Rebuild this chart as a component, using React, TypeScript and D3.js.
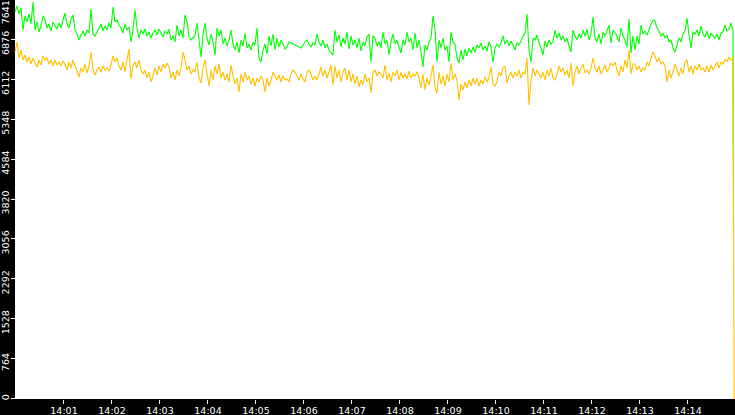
import * as d3 from "d3";
import { useEffect, useRef } from "react";

// Two throughput series, one sample every 2.5 s starting 14:00:00.
const GREEN_VALUES = [
  7411, 7526, 7373, 7488, 7066, 7335, 7220, 7373, 7181, 7603,
  7066, 7220, 7028, 7143, 7335, 7258, 7105, 7181, 7047, 7220,
  7143, 7086, 7201, 7105, 7258, 7392, 7181, 7105, 7277, 7354,
  7066, 6990, 6875, 6971, 7047, 6952, 7066, 7009, 7469, 6990,
  6952, 7028, 7105, 7181, 7047, 7143, 7066, 7201, 7105, 7507,
  7220, 7258, 7162, 7105, 7009, 7181, 7066, 7124, 6837, 7066,
  7450, 7105, 6913, 7066, 6990, 7086, 6952, 7028, 6913, 7009,
  7066, 6971, 7086, 7009, 6932, 7047, 6990, 7086, 6875, 6952,
  6837, 7162, 6952, 7066, 6913, 7354, 7220, 6932, 6875, 6913,
  6952, 7201, 6875, 6549, 6971, 7201, 6913, 6779, 6990, 6837,
  6588, 7105, 6952, 7066, 6798, 6913, 6760, 6875, 7066, 6798,
  6683, 6837, 6626, 6875, 6760, 7009, 6722, 6798, 6683, 6837,
  6779, 7105, 6530, 6454, 6683, 6798, 6607, 6952, 6760, 6990,
  6683, 6913, 6741, 6875, 6798, 6703, 6741, 6837, 6818, 6798,
  6779, 6760, 6741, 6722, 6779, 6837, 6875, 6798, 6741, 6818,
  6779, 6990, 6837, 6760, 6875, 6722, 6798, 6683, 6626, 6588,
  7066, 6837, 6971, 6741, 6913, 6798, 7028, 6703, 6952, 6779,
  6875, 6722, 6913, 6664, 6837, 6760, 6932, 6990, 6454, 6952,
  6913, 6760, 6837, 6722, 7028, 6798, 6875, 6588, 6837, 6990,
  6798, 6875, 6741, 6626, 6875, 6779, 7028, 6837, 6913, 6683,
  7009, 6722, 6875, 6645, 6358, 6779, 6683, 6837, 6913, 7335,
  7066, 6454, 6875, 6722, 6913, 6683, 6760, 6454, 7028, 6837,
  6798, 6530, 6435, 6683, 6492, 6703, 6569, 6722, 6626, 6741,
  6645, 6779, 6722, 6818, 6683, 6760, 6664, 6837, 6741, 6454,
  6722, 6798, 6741, 6818, 6952, 6798, 6875, 6760, 6856, 6779,
  6683, 6818, 6779, 6856, 6952, 7009, 7373, 6683, 6454, 6913,
  6875, 6971, 6818, 6722, 6588, 6856, 6741, 6875, 6798, 6837,
  7066, 6913, 7009, 6875, 6952, 6837, 6913, 6760, 6645, 7066,
  6952, 6875, 6990, 6913, 7066, 6952, 7086, 6875, 6990, 7315,
  6913, 6837, 6990, 6798, 7028, 6952, 7047, 7162, 6818, 7066,
  7009, 6952, 6837, 7105, 6952, 6875, 6741, 7277, 6626, 6952,
  6683, 6952, 6798, 7162, 6990, 7047, 6971, 7066, 7181, 7258,
  7239, 7105, 7047, 6952, 7009, 6913, 6971, 6837, 6875, 6722,
  6645, 6779, 6913, 6837, 6990, 7047, 7296, 6971, 6722, 7028,
  6990, 7066, 6952, 7143, 6990, 6932, 7047, 6894, 7009, 6952,
  6913, 6990, 6875, 7009, 7028, 7162, 7047, 7086, 7201, 7066,
];

const ORANGE_VALUES = [
  6645, 6837, 6530, 6683, 6492, 6588, 6454, 6549, 6415, 6530,
  6435, 6358, 6492, 6396, 6569, 6492, 6530, 6415, 6492, 6377,
  6492, 6396, 6454, 6377, 6473, 6415, 6300, 6454, 6339, 6492,
  6377, 6281, 6166, 6339, 6262, 6415, 6243, 6377, 6645, 6300,
  6205, 6300, 6358, 6262, 6377, 6300, 6339, 6281, 6396, 6569,
  6454, 6530, 6377, 6300, 6454, 6262, 6492, 6703, 6128, 6396,
  6454, 6339, 6492, 6300, 6224, 6300, 6147, 6262, 6071, 6186,
  6339, 6205, 6377, 6262, 6415, 6339, 6435, 6358, 6147, 6262,
  6109, 6300, 6186, 6339, 6645, 6492, 6300, 6377, 6224, 6300,
  6262, 6454, 6147, 6052, 6339, 6492, 6224, 5994, 6300, 6109,
  6377, 6224, 6415, 6147, 6262, 6109, 6224, 6071, 6396, 6186,
  6033, 6147, 5879, 6224, 6071, 6262, 6109, 6186, 6033, 6147,
  5994, 6147, 6071, 6186, 6109, 5879, 6147, 5994, 6109, 6262,
  6186, 6109, 6205, 6071, 6186, 6109, 6128, 6071, 6224, 6300,
  6262, 6186, 6109, 6224, 6128, 6071, 6262, 6300, 6224, 6109,
  6186, 6109, 6224, 6358, 6186, 6300, 6147, 6262, 6396, 6013,
  6377, 6147, 6300, 6071, 6262, 6339, 6109, 6300, 6071, 6224,
  6033, 6186, 5975, 6109, 6013, 6224, 6071, 6147, 5860, 6262,
  6300, 6186, 6262, 6224, 6147, 6396, 6109, 6243, 6071, 6262,
  6186, 6300, 6109, 6262, 6147, 6224, 6128, 6281, 6147, 6224,
  6186, 6262, 6147, 5956, 6224, 5918, 6147, 6013, 6186, 6396,
  5956, 5860, 6262, 6033, 6186, 5994, 6224, 6071, 6435, 6109,
  6224, 6109, 5726, 6033, 5918, 6071, 5956, 6109, 5994, 6147,
  6033, 6147, 5994, 6109, 6033, 6166, 6071, 6147, 6358, 6033,
  5994, 6071, 6262, 6186, 6339, 6377, 6052, 6186, 6262, 6147,
  6262, 6186, 6300, 6147, 6262, 6224, 6530, 5630, 6109, 6339,
  6186, 6300, 6224, 6147, 6262, 6109, 6300, 6186, 6339, 6147,
  6109, 6224, 6377, 6262, 6339, 6205, 6300, 6147, 6435, 5994,
  6262, 6377, 6224, 6339, 6415, 6243, 6300, 6224, 6339, 6530,
  6339, 6262, 6377, 6224, 6300, 6396, 6262, 6339, 6435, 6377,
  6454, 6300, 6186, 6377, 6262, 6492, 6339, 6683, 6224, 6415,
  6415, 6300, 6377, 6262, 6339, 6300, 6454, 6377, 6530, 6645,
  6569, 6454, 6530, 6415, 6454, 6377, 6071, 6300, 6147, 6262,
  6415, 6300, 6186, 6339, 6224, 6454, 6492, 6262, 6377, 6224,
  6377, 6300, 6415, 6300, 6339, 6262, 6377, 6262, 6396, 6300,
  6377, 6454, 6339, 6454, 6415, 6511, 6454, 6549, 6492, 6530,
];

// Final readings when the feed stopped.
const GREEN_LAST = 3236;
const ORANGE_LAST = 0;

const Y_MAX = 7641;
const Y_TICK_LABELS = ["0", "764", "1528", "2292", "3056", "3820", "4584", "5348", "6112", "6876", "7641"];
const X_TICK_LABELS = [
  "14:01", "14:02", "14:03", "14:04", "14:05", "14:06", "14:07",
  "14:08", "14:09", "14:10", "14:11", "14:12", "14:13", "14:14",
];

const START = "14:00:00";
const END = "14:15:00";
const STEP_MS = 2500;

const WIDTH = 735;
const HEIGHT = 415;
const FONT = "9.5px 'DejaVu Sans', sans-serif";

type Pt = { t: Date; v: number };

const App = () => {
  const svgRef = useRef<SVGSVGElement>(null);

  useEffect(() => {
    const svgEl = svgRef.current;
    if (!svgEl) return;
    const svg = d3.select(svgEl);
    svg.selectAll("*").remove();

    const margin = { left: 15, bottom: 16 };
    const plotBottom = HEIGHT - margin.bottom;

    const parseT = d3.timeParse("%H:%M:%S");
    const parseHM = d3.timeParse("%H:%M");
    const t0 = parseT(START)!;
    const t1 = parseT(END)!;

    const x = d3.scaleTime().domain([t0, t1]).range([margin.left, WIDTH]);
    const y = d3.scaleLinear().domain([0, Y_MAX]).range([plotBottom, 0]);

    const toSeries = (vals: number[], last: number, lastLagMs: number): Pt[] => {
      const pts = vals.map((v, i) => ({ t: new Date(+t0 + i * STEP_MS), v }));
      const endT = +t0 + (vals.length - 1) * STEP_MS + lastLagMs;
      pts.push({ t: new Date(endT), v: last });
      return pts;
    };
    const green = toSeries(GREEN_VALUES, GREEN_LAST, 600);
    const orange = toSeries(ORANGE_VALUES, ORANGE_LAST, 1500);

    // background bands
    svg.append("rect").attr("width", WIDTH).attr("height", HEIGHT).attr("fill", "#000");
    svg
      .append("rect")
      .attr("x", margin.left)
      .attr("y", 0)
      .attr("width", WIDTH - margin.left)
      .attr("height", plotBottom)
      .attr("fill", "#fff");

    const line = d3
      .line<Pt>()
      .x((d) => x(d.t))
      .y((d) => y(d.v));

    const plot = svg.append("g");
    plot
      .append("path")
      .datum(green)
      .attr("d", line)
      .attr("fill", "none")
      .attr("stroke", "#00ff00")
      .attr("stroke-width", 1.1)
      .attr("stroke-linejoin", "miter")
      .attr("stroke-miterlimit", 2);
    plot
      .append("path")
      .datum(orange)
      .attr("d", line)
      .attr("fill", "none")
      .attr("stroke", "#ffc000")
      .attr("stroke-width", 1.1)
      .attr("stroke-linejoin", "miter")
      .attr("stroke-miterlimit", 2);

    // y axis (rotated labels, kept inside the plot height)
    const yTicks = Y_TICK_LABELS.map((label, i) => ({ label, v: (Y_MAX / 10) * i }));
    svg
      .selectAll("line.tick-y")
      .data(yTicks)
      .enter()
      .append("line")
      .attr("x1", 11)
      .attr("x2", margin.left)
      .attr("y1", (d) => Math.round(y(d.v)) - 0.5)
      .attr("y2", (d) => Math.round(y(d.v)) - 0.5)
      .attr("stroke", "#fff")
      .attr("stroke-width", 1);
    svg
      .selectAll("text.tick-y")
      .data(yTicks)
      .enter()
      .append("text")
      .attr("transform", (d) => {
        const half = (d.label.length * 5.6) / 2;
        const c = Math.max(half + 1, Math.min(plotBottom + 1 - half, y(d.v) + 3));
        return `translate(8.6,${c}) rotate(-90)`;
      })
      .attr("text-anchor", "middle")
      .attr("fill", "#fff")
      .style("font", FONT)
      .text((d) => d.label);

    // x axis
    const xTicks = X_TICK_LABELS.map((label) => ({ label, t: parseHM(label)! }));
    svg
      .selectAll("line.tick-x")
      .data(xTicks)
      .enter()
      .append("line")
      .attr("x1", (d) => Math.round(x(d.t)) + 0.5)
      .attr("x2", (d) => Math.round(x(d.t)) + 0.5)
      .attr("y1", plotBottom + 1)
      .attr("y2", plotBottom + 5)
      .attr("stroke", "#fff")
      .attr("stroke-width", 1);
    svg
      .selectAll("text.tick-x")
      .data(xTicks)
      .enter()
      .append("text")
      .attr("x", (d) => x(d.t) + 1)
      .attr("y", HEIGHT - 1)
      .attr("text-anchor", "middle")
      .attr("fill", "#fff")
      .style("font", FONT)
      .text((d) => d.label);
  }, []);

  return (
    <>
      <style>{`body{margin:0;overflow:hidden}`}</style>
      <svg ref={svgRef} width={WIDTH} height={HEIGHT} style={{ display: "block" }} />
    </>
  );
};

export default App;
